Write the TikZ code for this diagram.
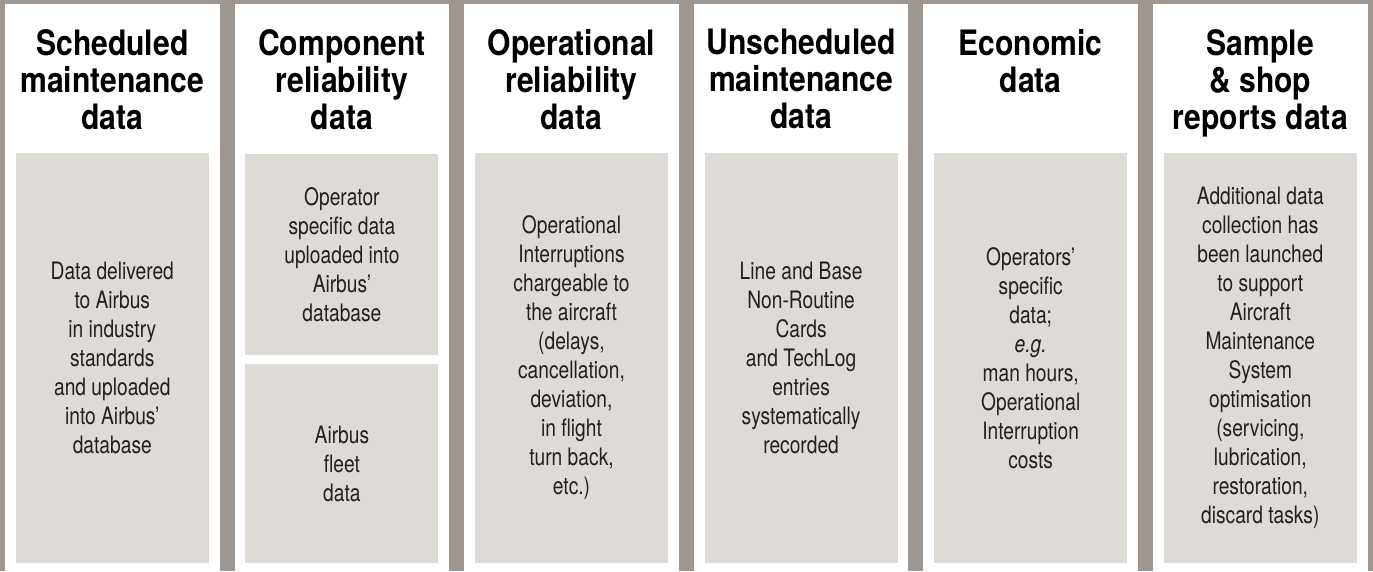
\documentclass[tikz,border=0pt]{standalone}
\usepackage{fontspec}
\setmainfont{TeX Gyre Heros}
\newfontfamily\headfont[FakeStretch=0.86]{TeX Gyre Heros}
\newfontfamily\bodyfont[FakeStretch=0.8]{TeX Gyre Heros}
\definecolor{frame}{HTML}{9E9690}
\definecolor{panel}{HTML}{DEDAD6}
\definecolor{ink}{HTML}{231F20}

\begin{document}
\begin{tikzpicture}[x=1pt, y=-1pt,
  head/.style={anchor=north, inner sep=0pt, align=center,
    font=\headfont\bfseries\fontsize{35}{37}\selectfont},
  field/.style={fill=panel, inner sep=0pt, minimum width=193pt, align=center,
    text=ink, font=\bodyfont\fontsize{24}{29}\selectfont}]
  \fill [frame] (0,0) rectangle (1373,571);
  \fill [white] (5,4) rectangle (219.6,571);
  \fill [white] (234.6,4) rectangle (449.2,571);
  \fill [white] (464.2,4) rectangle (678.8,571);
  \fill [white] (693.8,4) rectangle (908.4,571);
  \fill [white] (923.4,4) rectangle (1138,571);
  \fill [white] (1153,4) rectangle (1367.6,571);

  \node [head] (H1) at (112.3,29) {Scheduled\\maintenance\\data};
  \node [head] (H2) at (341.9,29) {Component\\reliability\\data};
  \node [head] (H3) at (571.5,29) {Operational\\reliability\\data};
  \node [head] (H4) at (801.1,29) {Unscheduled\\maintenance\\data};
  \node [head] (H5) at (1030.7,29) {Economic\\data};
  \node [head] (H6) at (1260.3,29) {Sample\\\& shop\\reports data};

  \node [field, minimum height=410pt] (D1) at (112.3,358)
    {Data delivered\\to Airbus\\in industry\\standards\\and uploaded\\into Airbus’\\database};
  \node [field, minimum height=201pt] (D2a) at (341.9,254.5)
    {Operator\\specific data\\uploaded into\\Airbus’\\database};
  \node [field, minimum height=199pt] (D2b) at (341.9,463.5)
    {Airbus\\fleet\\data};
  \node [field, minimum height=410pt] (D3) at (571.5,358)
    {Operational\\Interruptions\\chargeable to\\the aircraft\\(delays,\\cancellation,\\deviation,\\in flight\\turn back,\\etc.)};
  \node [field, minimum height=410pt] (D4) at (801.1,358)
    {Line and Base\\Non-Routine\\Cards\\and TechLog\\entries\\systematically\\recorded};
  \node [field, minimum height=410pt] (D5) at (1030.7,358)
    {Operators’\\specific\\data;\\\textit{e.g.}\\man hours,\\Operational\\Interruption\\costs};
  \node [field, minimum height=410pt] (D6) at (1260.3,358)
    {Additional data\\collection has\\been launched\\to support\\Aircraft\\Maintenance\\System\\optimisation\\(servicing,\\lubrication,\\restoration,\\discard tasks)};
\end{tikzpicture}
\end{document}
